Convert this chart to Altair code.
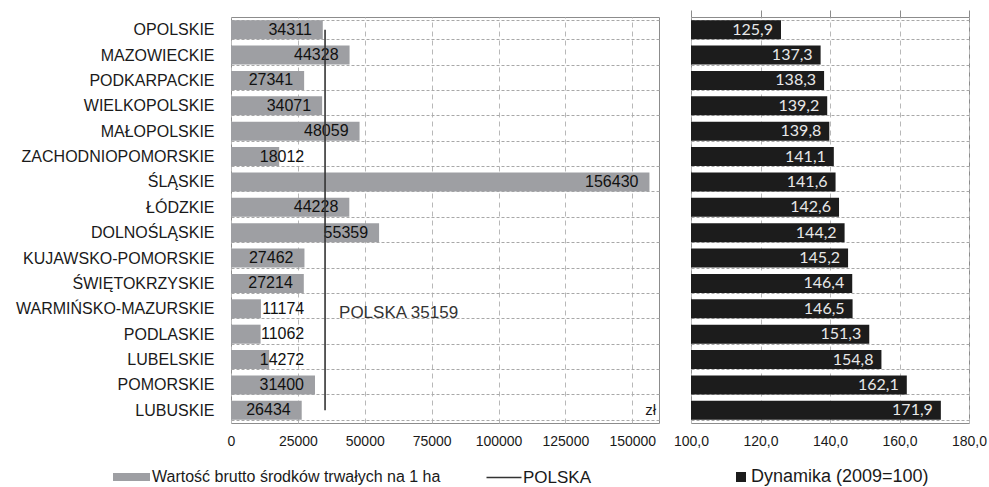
import altair as alt
import pandas as pd

# Województwa in display order (top to bottom)
wojewodztwa = [
    "OPOLSKIE", "MAZOWIECKIE", "PODKARPACKIE", "WIELKOPOLSKIE", "MAŁOPOLSKIE",
    "ZACHODNIOPOMORSKIE", "ŚLĄSKIE", "ŁÓDZKIE", "DOLNOŚLĄSKIE", "KUJAWSKO-POMORSKIE",
    "ŚWIĘTOKRZYSKIE", "WARMIŃSKO-MAZURSKIE", "PODLASKIE", "LUBELSKIE", "POMORSKIE", "LUBUSKIE",
]
# Wartość brutto środków trwałych na 1 ha (zł)
wartosc = [34311, 44328, 27341, 34071, 48059, 18012, 156430, 44228, 55359,
           27462, 27214, 11174, 11062, 14272, 31400, 26434]
# Dynamika (2009=100)
dynamika = [125.9, 137.3, 138.3, 139.2, 139.8, 141.1, 141.6, 142.6, 144.2,
            145.2, 146.4, 146.5, 151.3, 154.8, 162.1, 171.9]
polska_wartosc = 35159

ticks_wartosc = [0, 25000, 50000, 75000, 100000, 125000, 150000]
ticks_dynamika = [100, 120, 140, 160, 180]

seria_wartosc = "Wartość brutto środków trwałych na 1 ha"
seria_polska = "POLSKA"
seria_dynamika = "Dynamika (2009=100)"

FONT = "Liberation Sans"
GRID = "#a8a8a8"
BORDER = "#8c8c8c"

df = pd.DataFrame({
    "woj": wojewodztwa,
    "wartosc": wartosc,
    "dynamika": dynamika,
    "seria": seria_wartosc,
    "seria_dyn": seria_dynamika,
})
pl = pd.DataFrame({
    "od": [wojewodztwa[0]],
    "do": [wojewodztwa[-1]],
    "wartosc": [polska_wartosc],
    "seria_pl": [seria_polska],
    "etykieta": [f"POLSKA {polska_wartosc}"],
    "wiersz": ["WARMIŃSKO-MAZURSKIE"],
})

band = dict(domain=wojewodztwa, paddingInner=0.25, paddingOuter=0.125)

legend_style = dict(orient="none", title=None, padding=0, labelFont=FONT,
                    labelColor="#1a1a1a", labelLimit=0)

# ---------- left panel: value per ha ----------
y_left = alt.Y(
    "woj:N", title=None, scale=alt.Scale(**band),
    axis=alt.Axis(labelFont=FONT, labelFontSize=16, labelColor="#1a1a1a",
                  labelPadding=17, labelLimit=0, ticks=False, domain=False,
                  grid=True, tickBand="extent", gridColor=GRID, gridDash=[3, 2],
                  minExtent=225, maxExtent=225),
)
x_left_scale = alt.Scale(domain=[0, 160000], nice=False)
x_left_axis = alt.Axis(values=ticks_wartosc, format="d", labelFont=FONT,
                       labelFontSize=14, labelColor="#1a1a1a", ticks=False,
                       labelFlush=False, domain=False, labelPadding=11, grid=True,
                       gridColor="#b8b8b8", gridDash=[5, 4])

bars_left = alt.Chart(df).mark_bar(color="#9e9fa3").encode(
    x=alt.X("wartosc:Q", title=None, scale=x_left_scale, axis=x_left_axis),
    y=y_left,
    color=alt.Color(
        "seria:N",
        scale=alt.Scale(domain=[seria_wartosc], range=["#9e9fa3"]),
        legend=alt.Legend(legendX=-107.5, legendY=452,
                          symbolType="M-3.7,-0.8H3.7V0.8H-3.7Z", symbolSize=100,
                          symbolStrokeWidth=0, labelOffset=12.5, labelFontSize=16,
                          **legend_style),
    ),
)

labels_left = alt.Chart(df).transform_calculate(
    lx="datum.wartosc < 20000 ? 31500 : datum.wartosc"
).mark_text(align="right", dx=-11, font=FONT, fontSize=16, color="#111111").encode(
    x=alt.X("lx:Q", scale=x_left_scale),
    y=alt.Y("woj:N"),
    text=alt.Text("wartosc:Q", format="d"),
)

rule_pl = alt.Chart(pl).mark_rule(strokeWidth=1.6).encode(
    x=alt.X("wartosc:Q", scale=x_left_scale),
    y=alt.Y("od:N"),
    y2="do:N",
    stroke=alt.Stroke(
        "seria_pl:N",
        scale=alt.Scale(domain=[seria_polska], range=["#333333"]),
        legend=alt.Legend(legendX=264.5, legendY=452, symbolType="M-3.5,0H3.5",
                          symbolSize=100, symbolStrokeWidth=1.3, labelOffset=10.5,
                          labelFontSize=17, **legend_style),
    ),
)

text_pl = alt.Chart(pl).mark_text(align="left", dx=14, dy=4, font=FONT,
                                  fontSize=17, color="#333333").encode(
    x=alt.X("wartosc:Q", scale=x_left_scale),
    y=alt.Y("wiersz:N"),
    text="etykieta:N",
)

unit = alt.Chart(pl).mark_text(align="right", dx=-3, font=FONT, fontSize=15,
                               color="#1a1a1a").encode(
    x=alt.datum(160000),
    y=alt.datum(wojewodztwa[-1]),
    text=alt.value("zł"),
)

left = alt.layer(bars_left, labels_left, rule_pl, text_pl, unit).properties(
    width=428, height=406
)

# ---------- right panel: dynamics ----------
x_right_scale = alt.Scale(domain=[100, 180], nice=False, zero=False)
bars_right = alt.Chart(df).mark_bar().encode(
    x=alt.X("dynamika:Q", title=None, scale=x_right_scale,
            axis=alt.Axis(values=ticks_dynamika,
                          labelExpr="replace(format(datum.value, '.1f'), '.', ',')",
                          labelFont=FONT, labelFontSize=14, labelColor="#1a1a1a",
                          labelFlush=False, ticks=False, domain=False,
                          labelPadding=11, grid=True, gridColor="#b8b8b8",
                          gridDash=[5, 4])),
    x2=alt.datum(100),
    y=alt.Y("woj:N", title=None, scale=alt.Scale(**band),
            axis=alt.Axis(labels=False, ticks=False, domain=False, grid=True,
                          tickBand="extent", gridColor=GRID, gridDash=[3, 2],
                          minExtent=0, maxExtent=0)),
    color=alt.Color(
        "seria_dyn:N",
        scale=alt.Scale(domain=[seria_dynamika], range=["#1c1c1c"]),
        legend=alt.Legend(legendX=41, legendY=451, symbolType="square",
                          symbolSize=100, symbolStrokeWidth=0, labelOffset=1,
                          labelFontSize=18, **legend_style),
    ),
)

labels_right = alt.Chart(df).transform_calculate(
    etykieta="replace(format(datum.dynamika, '.1f'), '.', ',')"
).mark_text(align="right", dx=-8, font="Lato", fontSize=16, color="#e8e8e8").encode(
    x=alt.X("dynamika:Q", scale=x_right_scale,
            axis=alt.Axis(orient="top", values=ticks_dynamika, labels=False,
                          ticks=True, tickSize=7, tickColor=BORDER, domain=False,
                          grid=False, title=None)),
    y=alt.Y("woj:N"),
    text="etykieta:N",
)

right = alt.layer(bars_right, labels_right).resolve_axis(x="independent").properties(
    width=278, height=406
)

chart = alt.hconcat(left, right, spacing=32, bounds="flush").resolve_scale(
    color="independent", y="independent", x="independent"
).configure(
    padding={"left": 5, "top": 8, "right": 0, "bottom": 0},
    background="white",
).configure_view(stroke=BORDER, strokeWidth=1)

chart.save("out.html", embed_options={"renderer": "svg", "actions": False})
